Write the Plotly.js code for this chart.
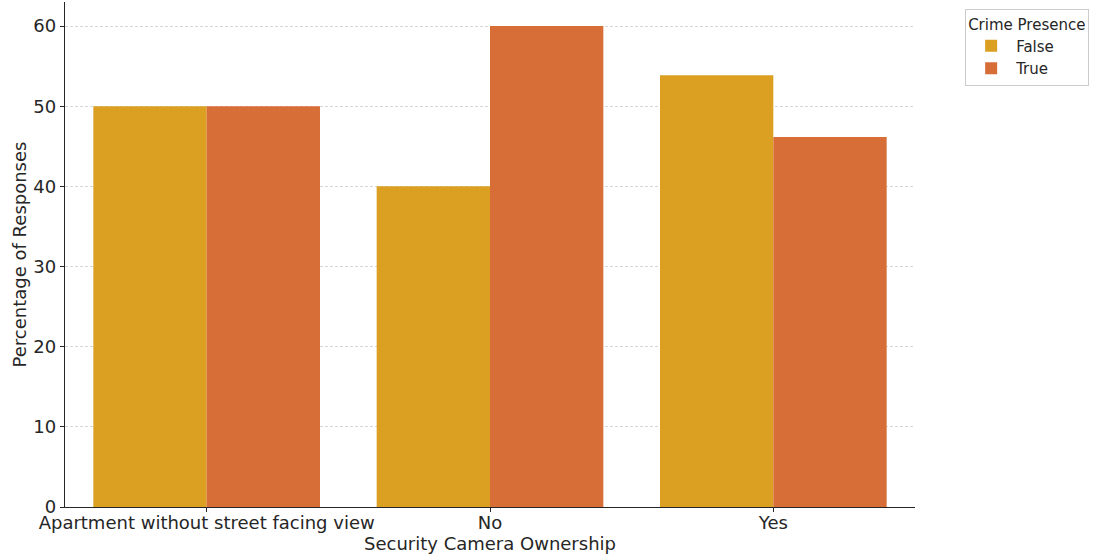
<!DOCTYPE html>
<html>
<head>
<meta charset="utf-8">
<script src="https://cdn.plot.ly/plotly-3.0.1.min.js"></script>
<style>html,body{margin:0;padding:0;background:#fff;}#chart{width:1099px;height:557px;}</style>
</head>
<body>
<div id="chart"></div>
<script>
const categories = ["Apartment without street facing view", "No", "Yes"];
const falseValues = [50, 40, 53.85];
const trueValues = [50, 60, 46.15];
const seriesNames = ["False", "True"];
const yTicks = [0, 10, 20, 30, 40, 50, 60];

const font = "DejaVu Sans, sans-serif";
const data = [
  {type: "bar", name: seriesNames[0], x: categories, y: falseValues, marker: {color: "#DBA021"}},
  {type: "bar", name: seriesNames[1], x: categories, y: trueValues, marker: {color: "#D76E38"}}
];
const layout = {
  width: 1099, height: 557,
  margin: {l: 65, r: 184, t: 2, b: 50},
  barmode: "group", bargap: 0.2, bargroupgap: 0,
  paper_bgcolor: "#fff", plot_bgcolor: "#fff",
  font: {family: font, color: "#262626"},
  hovermode: false,
  xaxis: {
    type: "category", range: [-0.5, 2.5],
    showline: true, linecolor: "#262626", linewidth: 1.2,
    ticks: "outside", ticklen: 4, tickcolor: "#262626",
    ticklabelstandoff: -5,
    tickfont: {size: 18, family: font, color: "#262626"},
    showgrid: false, zeroline: false,
    title: {text: "Security Camera Ownership", font: {size: 18, family: font, color: "#262626"}, standoff: 4}
  },
  yaxis: {
    range: [0, 63], tickvals: yTicks,
    showline: true, linecolor: "#262626", linewidth: 1.2,
    ticks: "outside", ticklen: 4, tickcolor: "#262626",
    tickfont: {size: 18, family: font, color: "#262626"},
    showgrid: true, gridcolor: "#cccccc", griddash: "3px,2px", gridwidth: 0.8,
    zeroline: false,
    title: {text: "Percentage of Responses", font: {size: 18, family: font, color: "#262626"}, standoff: 2}
  },
  legend: {
    x: 1.059, y: 0.986, xanchor: "left", yanchor: "top",
    bordercolor: "#cccccc", borderwidth: 1, bgcolor: "#fff",
    font: {size: 15, family: font, color: "#262626"},
    title: {text: "Crime Presence", font: {size: 15, family: font, color: "#262626"}, side: "top"},
    traceorder: "normal", itemwidth: 40
  },
  showlegend: true
};
Plotly.newPlot("chart", data, layout, {displayModeBar: false, staticPlot: true});
</script>
</body>
</html>
